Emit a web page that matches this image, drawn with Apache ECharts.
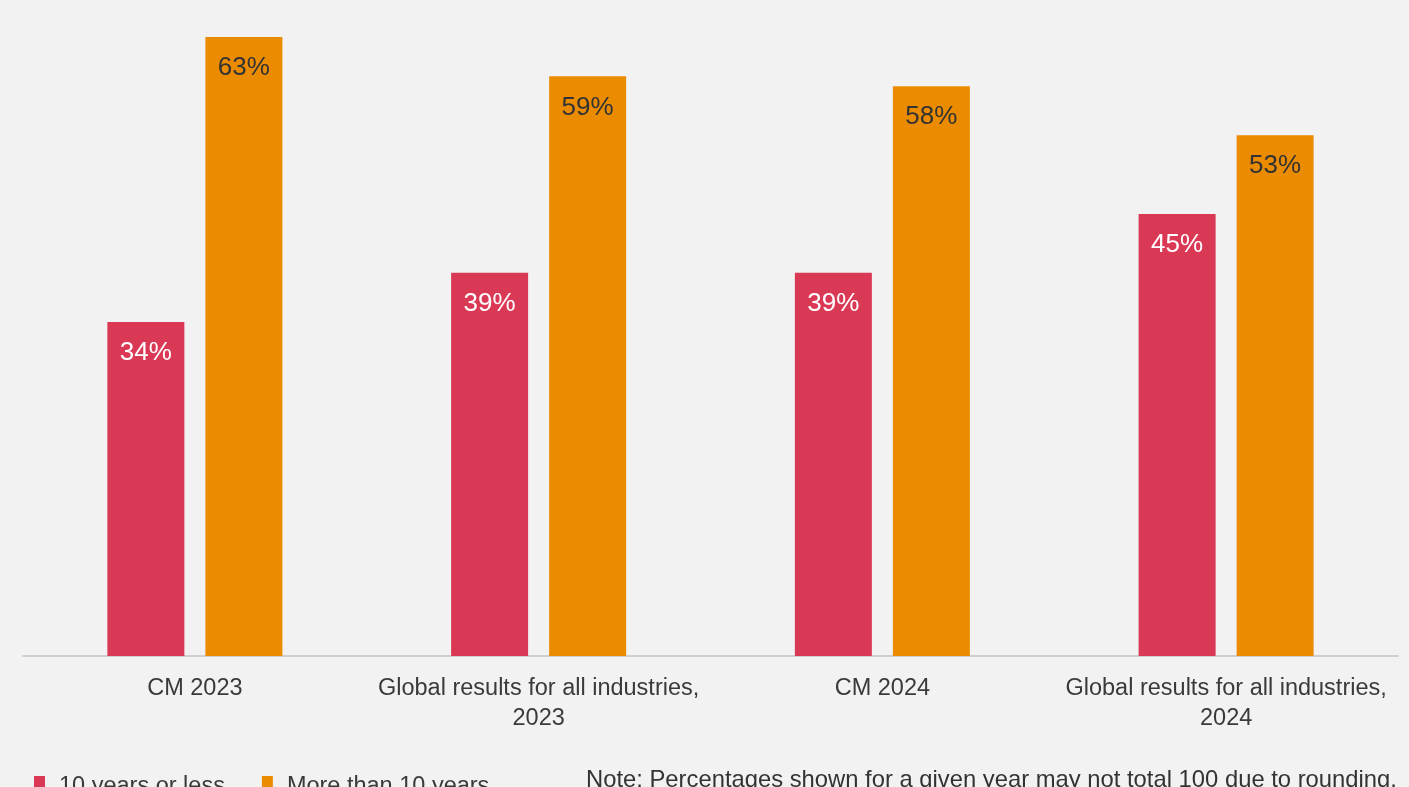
<!DOCTYPE html>
<html><head><meta charset="utf-8">
<script src="https://cdn.jsdelivr.net/npm/echarts@6/dist/echarts.min.js"></script>
<style>html,body{margin:0;padding:0;background:#f2f2f2;}#c{width:1409px;height:787px;}</style>
</head><body><div id="c"></div>
<script>
const categories = ["CM 2023", "Global results for all industries,\n2023", "CM 2024", "Global results for all industries,\n2024"];
const seriesNames = ["10 years or less", "More than 10 years"];
const tenOrLess = [34, 39, 39, 45];
const moreThanTen = [63, 59, 58, 53];
const noteText = "Note: Percentages shown for a given year may not total 100 due to rounding.";

const FONT = "'Liberation Sans', Helvetica, Arial, sans-serif";
const chart = echarts.init(document.getElementById('c'), null, {renderer: 'canvas'});
chart.setOption({
  backgroundColor: '#f2f2f2',
  animation: false,
  textStyle: {fontFamily: FONT},
  grid: {left: 23, right: 11, top: 0, height: 656, containLabel: false},
  xAxis: {
    type: 'category', data: categories,
    axisLine: {lineStyle: {color: '#cfcfcf', width: 2}},
    axisTick: {show: false},
    axisLabel: {color: '#3a3a3a', fontSize: 23.5, lineHeight: 30, margin: 18, fontFamily: FONT, interval: 0}
  },
  yAxis: {type: 'value', min: 0, max: 66.77, show: false, splitLine: {show: false}},
  legend: {
    left: 29, top: 770, itemWidth: 11, itemHeight: 22, itemGap: 37, icon: 'rect',
    textStyle: {color: '#3a3a3a', fontSize: 23.5, fontFamily: FONT, padding: [0, 0, 0, 9]},
    data: seriesNames
  },
  graphic: [{
    type: 'text', left: 586, top: 768,
    style: {text: noteText, fill: '#333', font: '23.8px ' + FONT}
  }],
  series: [
    {name: seriesNames[0], type: 'bar', data: tenOrLess, barWidth: 77, barGap: '27.3%',
     itemStyle: {color: '#da3956'},
     label: {show: true, position: 'insideTop', distance: 18, formatter: '{c}%', color: '#ffffff', fontSize: 26, fontFamily: FONT}},
    {name: seriesNames[1], type: 'bar', data: moreThanTen, barWidth: 77,
     itemStyle: {color: '#eb8c00'},
     label: {show: true, position: 'insideTop', distance: 18, formatter: '{c}%', color: '#333333', fontSize: 26, fontFamily: FONT}}
  ]
});
</script></body></html>
